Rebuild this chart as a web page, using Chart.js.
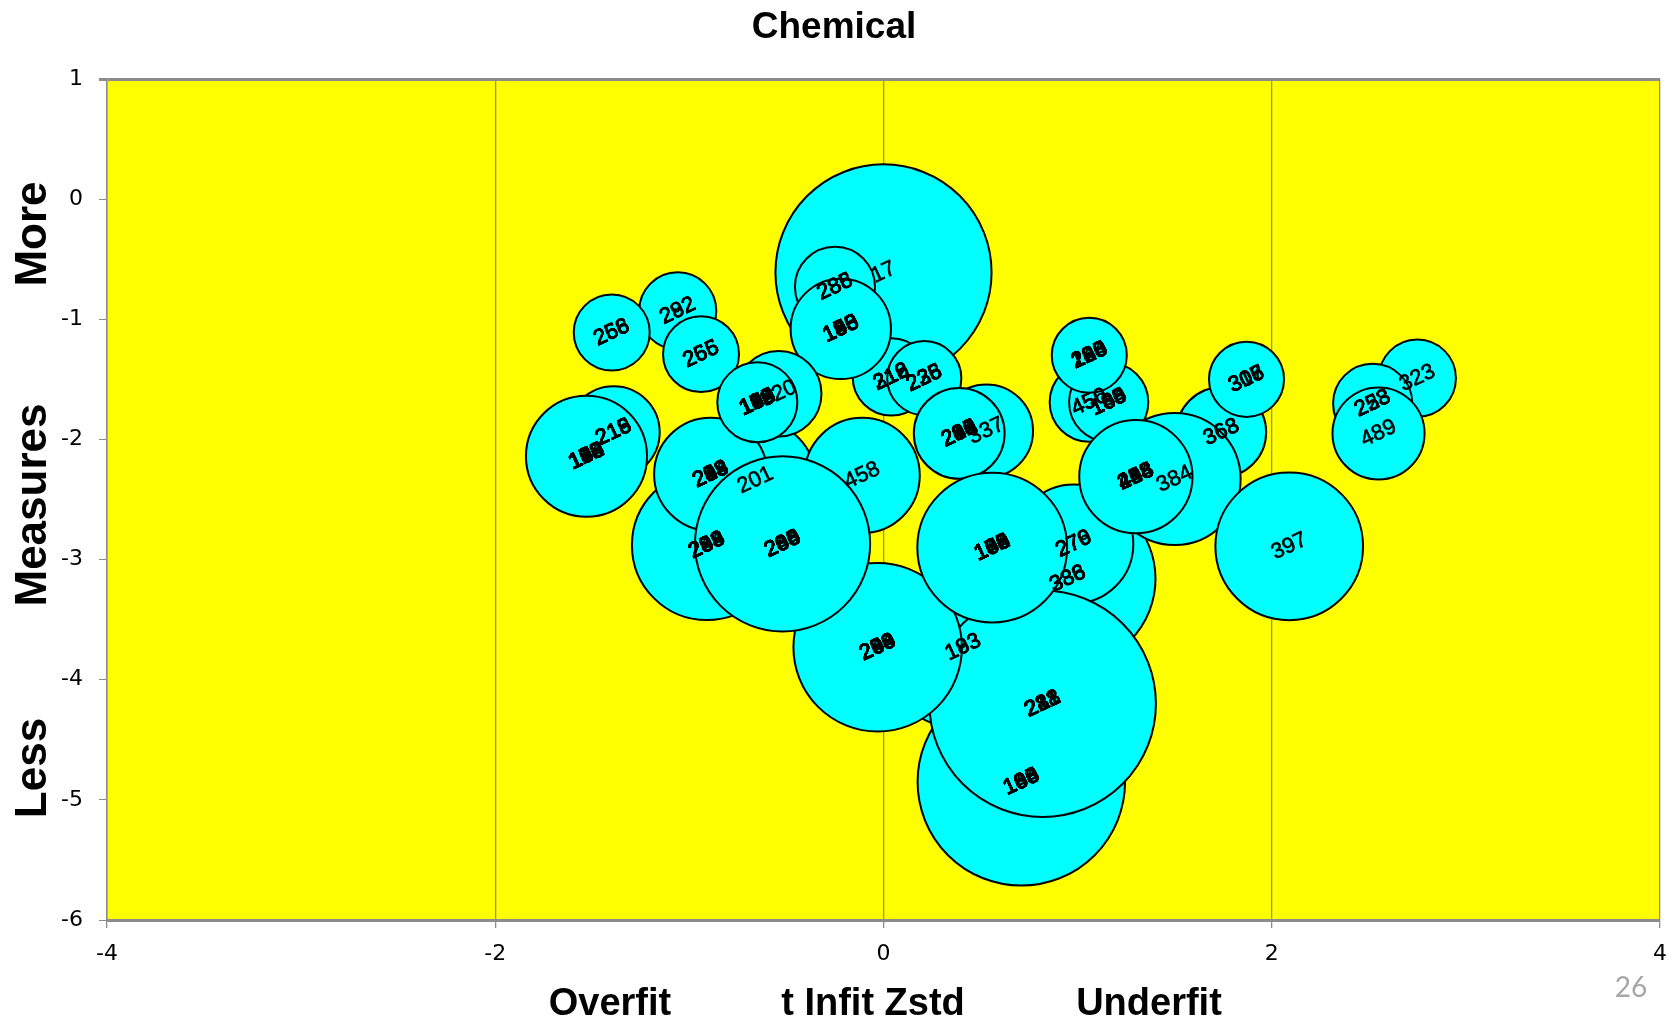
<!DOCTYPE html>
<html>
<head>
<meta charset="utf-8">
<title>Chemical</title>
<script src="https://cdn.jsdelivr.net/npm/chart.js@4.4.0/dist/chart.umd.min.js"></script>
<style>
  body { margin: 0; background: #fff; }
  #wrap { width: 1680px; height: 1019px; }
</style>
</head>
<body>
<div id="wrap"><canvas id="chart" width="1680" height="1019"></canvas></div>
<script>
// items drawn back to front; ids sharing one bubble are joined with "/"
const itemIds = [
  '17', '285/286/288', '212/216/218/219/316', '150/156/158/166/168/186/190/198/135/143', '225/226/235/236/238',
  '337', '280/281/288/289/290/208/218/234/245', '282/292', '256/258/266', '255/265/266',
  '213/215/216/218/219', '100/108/118/180/188/198/190/134/145/172', '201', '238/239/288/289/298/208/243/254', '248/249/258/298/208/218/234',
  '320', '100/108/110/180/188/198/190/134/145/172', '458', '183/193', '100/106/108/160/166/168/180/188/134/145',
  '336/338/386', '270/276/279', '211/218/281/288/221', '200/208/280/288/209/290/243/254', '200/206/260/266/268/280/288/234/245',
  '100/106/160/166/168/188/108/180/134/145/172', '450/456', '160/168/180/188/108/166/134/145', '120/128/180/188/220/228/208/280/134/145', '363/368',
  '306/307/308/316', '384', '248/258/288/428/458/408/448/434/445', '397', '323',
  '223/253/258', '489'
];
const infitZstd = [
  0.00, -0.25, 0.04, -0.22, 0.21,
  0.53, 0.39, -1.06, -1.40, -0.94,
  -1.39, -1.53, -0.66, -0.91, -0.89,
  -0.54, -0.65, -0.11, 0.41, 0.71,
  0.95, 0.98, 0.82, -0.03, -0.52,
  0.56, 1.06, 1.16, 1.06, 1.74,
  1.87, 1.50, 1.30, 2.09, 2.75,
  2.52, 2.55
];
const measures = [
  -0.61, -0.73, -1.48, -1.08, -1.49,
  -1.93, -1.95, -0.93, -1.11, -1.29,
  -1.94, -2.14, -2.34, -2.88, -2.29,
  -1.62, -1.69, -2.30, -3.73, -4.85,
  -3.16, -2.87, -4.20, -3.73, -2.87,
  -2.90, -1.69, -1.69, -1.30, -1.94,
  -1.50, -2.33, -2.31, -2.89, -1.49,
  -1.70, -1.95
];
const bubbleSizes = [
  102, 14, 13, 22, 12,
  19, 18, 13, 12.6, 12.6,
  18.5, 32, 32, 49, 28,
  16, 14, 29, 59, 94,
  67, 31, 112, 62, 67,
  49, 13.7, 13.7, 12.3, 17.6,
  12.3, 38, 28, 47.6, 13,
  13.7, 18.5
];
const xTickValues = [-4, -2, 0, 2, 4];
const yTickValues = [1, 0, -1, -2, -3, -4, -5, -6];

const RADIUS_PER_ROOT = 10.7;
const sideFont = '"Liberation Sans", Arial, sans-serif';

const plotBackground = {
  id: 'plotBackground',
  beforeDraw(chart) {
    const a = chart.chartArea;
    const ctx = chart.ctx;
    ctx.save();
    ctx.fillStyle = '#ffff00';
    ctx.fillRect(a.left, a.top, a.right - a.left, a.bottom - a.top);
    ctx.restore();
  }
};

const pointLabels = {
  id: 'pointLabels',
  afterDatasetsDraw(chart) {
    const ctx = chart.ctx;
    const meta = chart.getDatasetMeta(0);
    ctx.save();
    ctx.font = '22px ' + sideFont;
    ctx.fillStyle = '#000';
    ctx.strokeStyle = '#000';
    ctx.lineWidth = 0.6;
    ctx.textAlign = 'center';
    ctx.textBaseline = 'middle';
    meta.data.forEach((pt, i) => {
      ctx.save();
      ctx.translate(pt.x, pt.y);
      ctx.rotate(-25 * Math.PI / 180);
      itemIds[i].split('/').forEach(id => {
        ctx.fillText(id, 0, 0);
        ctx.strokeText(id, 0, 0);
      });
      ctx.restore();
    });
    ctx.restore();
  }
};

const captions = {
  id: 'captions',
  afterDraw(chart) {
    const ctx = chart.ctx;
    ctx.save();
    ctx.fillStyle = '#000';
    ctx.textAlign = 'center';
    ctx.textBaseline = 'alphabetic';
    ctx.font = 'bold 37px ' + sideFont;
    ctx.fillText('Chemical', 834, 38);

    ctx.font = 'bold 38px ' + sideFont;
    ctx.fillText('Overfit', 610, 1015);
    ctx.fillText('t Infit Zstd', 873, 1015);
    ctx.fillText('Underfit', 1149, 1015);

    ctx.font = 'bold 44px ' + sideFont;
    [['More', 234], ['Measures', 505], ['Less', 768]].forEach(([t, y]) => {
      ctx.save();
      ctx.translate(46, y);
      ctx.rotate(-Math.PI / 2);
      ctx.fillText(t, 0, 0);
      ctx.restore();
    });

    ctx.fillStyle = '#a6a6a6';
    ctx.font = '28px Lato, ' + sideFont;
    ctx.textBaseline = 'middle';
    ctx.fillText('26', 1631, 988);
    ctx.restore();
  }
};

new Chart(document.getElementById('chart'), {
  type: 'bubble',
  data: {
    datasets: [{
      data: infitZstd.map((x, i) => ({ x: x, y: measures[i], r: Math.sqrt(bubbleSizes[i]) * RADIUS_PER_ROOT })),
      backgroundColor: '#00ffff',
      borderColor: '#000000',
      borderWidth: 2,
      clip: false
    }]
  },
  options: {
    responsive: false,
    animation: false,
    events: [],
    layout: { autoPadding: false, padding: { top: 79, right: 18, bottom: 0, left: 0 } },
    plugins: {
      legend: { display: false },
      tooltip: { enabled: false },
      title: { display: false }
    },
    scales: {
      x: {
        type: 'linear',
        min: -4,
        max: 4,
        afterFit: s => { s.height = 99; },
        afterBuildTicks: s => { s.ticks = xTickValues.map(v => ({ value: v })); },
        grid: { color: '#8c8c8c', lineWidth: 1.3, tickLength: 8, tickColor: '#8c8c8c' },
        border: { display: true, color: '#8c8c8c', width: 3 },
        ticks: { color: '#000', padding: 13, maxRotation: 0, font: { family: '"DejaVu Sans"', size: 22 } }
      },
      y: {
        type: 'linear',
        min: -6,
        max: 1,
        afterFit: s => { s.width = 107; },
        afterBuildTicks: s => { s.ticks = yTickValues.map(v => ({ value: v })); },
        grid: {
          color: c => (c.tick && c.tick.value === 1) ? '#8c8c8c' : 'rgba(0,0,0,0)',
          lineWidth: c => (c.tick && c.tick.value === 1) ? 3 : 1,
          tickLength: 8,
          tickColor: '#8c8c8c'
        },
        border: { display: true, color: '#8c8c8c', width: 1.5 },
        ticks: { color: '#000', padding: 16, font: { family: '"DejaVu Sans"', size: 22 } }
      }
    }
  },
  plugins: [plotBackground, pointLabels, captions]
});
</script>
</body>
</html>
